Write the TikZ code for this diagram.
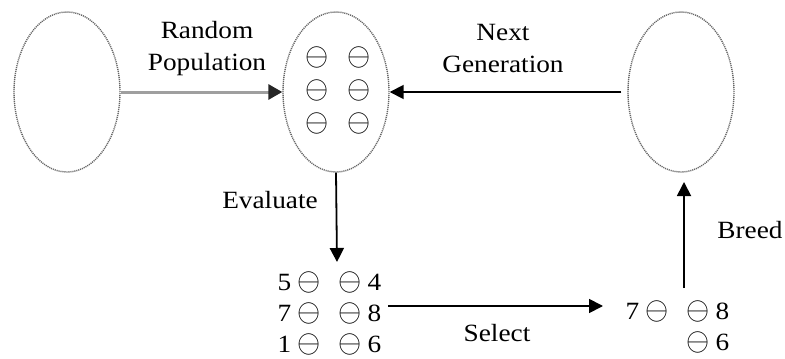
\documentclass[tikz,border=0pt]{standalone}
\usepackage{fontspec}
\setmainfont[FakeStretch=1.1]{Liberation Serif}
\usetikzlibrary{shapes.geometric,arrows.meta}

% one theta-like glyph
\newcommand{\thsym}{\makebox[10.5pt]{\scalebox{1.24}[1.34]{$\ominus$}}}
% a row "a ⊖  ⊖ b"
\newcommand{\scorerow}[2]{\makebox[6pt][r]{#1}\hspace{3.6pt}\thsym\hspace{10pt}\thsym\hspace{3.6pt}\makebox[6pt][l]{#2}}

\begin{document}
\begin{tikzpicture}[x=0.5pt,y=-0.5pt,
  every node/.style={font=\fontsize{12.4}{16}\selectfont},
  pool/.style={ellipse, draw=black!60, dash pattern=on 0.55pt off 0.45pt, line width=0.7pt,
    minimum width=53pt, minimum height=80pt, inner sep=0pt},
  label/.style={align=center, inner sep=0pt},
  row/.style={inner sep=0pt, anchor=east},
  link/.style={draw=black, line width=0.9pt,
    -{Triangle[length=7pt,width=7pt]}},
  firstlink/.style={draw=gray!75, line width=1.5pt,
    -{Triangle[length=7pt,width=7.5pt,fill=black!85,color=black!85]}}
]
\useasboundingbox (0,0) rectangle (785,358);

% the three populations
\node[pool] (start) at (67,92) {};
\node[pool] (pop)   at (336,92) {};
\node[pool] (next)  at (681,92) {};

% individuals of the current population
\node[inner sep=0pt, align=center, font=\fontsize{12.4}{16.5}\selectfont] (members) at (338,90)
  {\thsym\hspace{10.5pt}\thsym\\ \thsym\hspace{10.5pt}\thsym\\ \thsym\hspace{10.5pt}\thsym};

% evaluated individuals with their fitness
\node[row] (s1) at (380,282) {\scorerow{5}{4}};
\node[row] (s2) at (380,313) {\scorerow{7}{8}};
\node[row] (s3) at (380,344) {\scorerow{1}{6}};

% selected individuals
\node[row] (t1) at (728,311) {\scorerow{7}{8}};
\node[row] (t2) at (728,342) {\thsym\hspace{3.6pt}\makebox[6pt][l]{6}};

% step labels
\node[label] (lrand)  at (207,49) {Random\\Population};
\node[label] (lnext)  at (503,49) {Next\\Generation};
\node[label] (leval)  at (270,200) {Evaluate};
\node[label] (lsel)   at (497,333) {Select};
\node[label] (lbreed) at (750,230) {Breed};

% connectors
\coordinate (evalend) at (337,262);
\coordinate (selstart) at (388,306);
\coordinate (selend) at (603,306);
\coordinate (breedstart) at (684,288);
\coordinate (breedend) at (684,182);

\draw[firstlink] (start.east) -- (pop.west);
\draw[link] ([xshift=-3pt]next.west) -- (pop.east);
\draw[link] (pop.south) -- (evalend);
\draw[link] (selstart) -- (selend);
\draw[link] (breedstart) -- (breedend);
\end{tikzpicture}
\end{document}
